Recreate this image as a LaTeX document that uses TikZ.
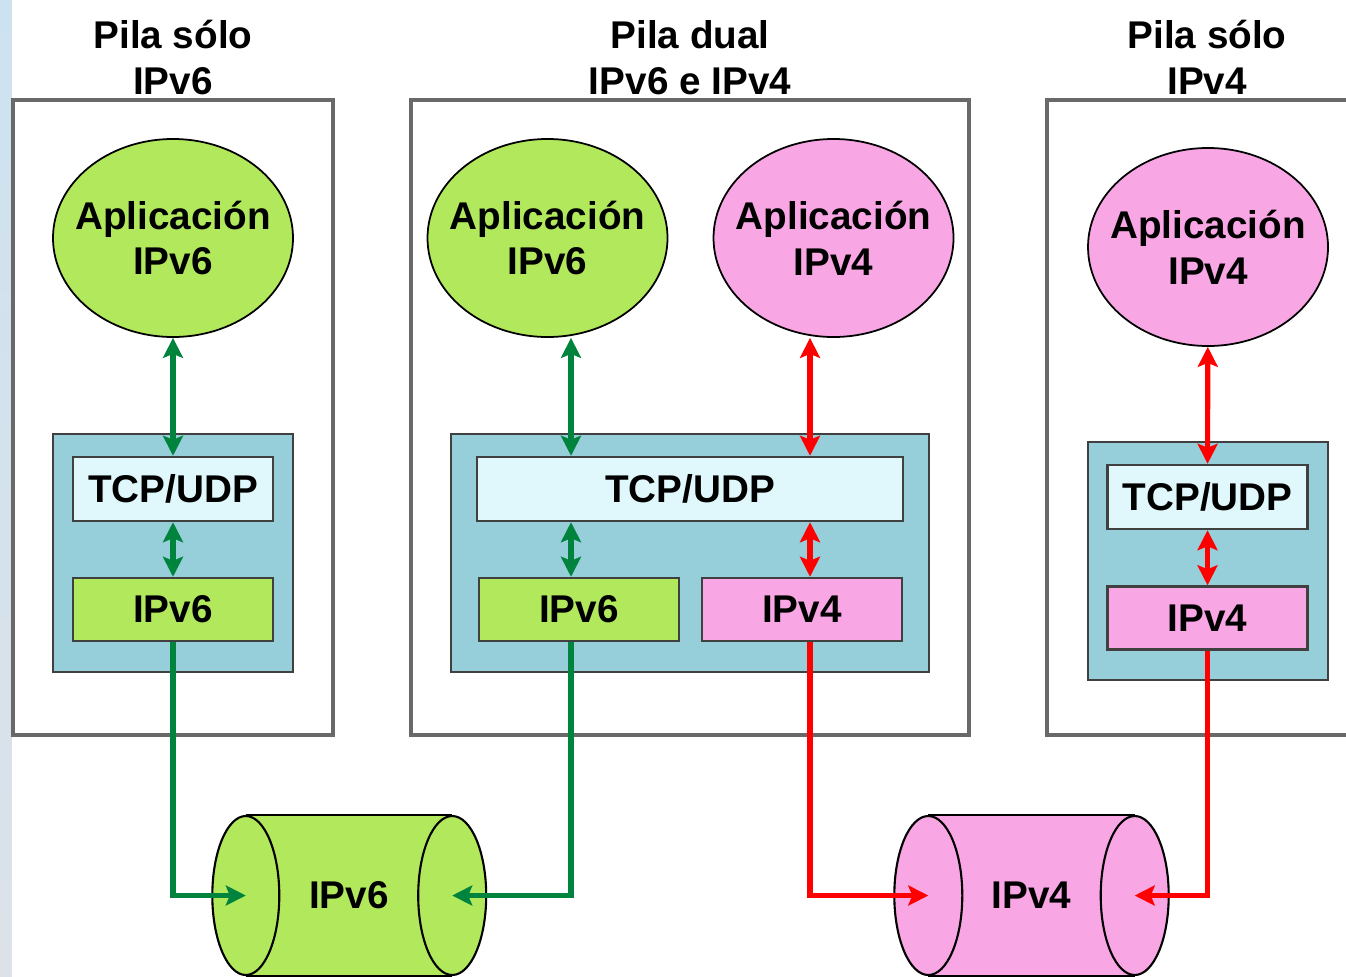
\documentclass[tikz,border=0pt]{standalone}
\usepackage{fontspec}
\setmainfont{Liberation Sans}
\usepackage{xcolor}
\usepackage{tikz}
\usetikzlibrary{arrows.meta,positioning,shapes,calc}

\definecolor{appgreen}{RGB}{178,232,92}
\definecolor{apppink}{RGB}{249,166,228}
\definecolor{stackblue}{RGB}{150,206,217}
\definecolor{tcpfill}{RGB}{224,248,252}
\definecolor{linkgreen}{RGB}{0,132,61}
\definecolor{linkred}{RGB}{255,0,0}
\definecolor{framegray}{RGB}{105,105,105}
\definecolor{skyleft}{RGB}{205,226,240}
\definecolor{skylow}{RGB}{220,226,232}

\begin{document}
\begin{tikzpicture}[
    txt/.style={font=\fontsize{11}{13}\selectfont\bfseries, align=center, inner sep=0pt},
    title/.style={txt},
    stack/.style={rectangle, draw=framegray, line width=0.9pt, fill=white, inner sep=0pt},
    layer/.style={rectangle, draw=black!75, line width=0.7pt, fill=stackblue, inner sep=0pt},
    proto/.style={rectangle, draw=black!75, line width=0.7pt, txt, minimum width=2cm, minimum height=0.63cm},
    app/.style={ellipse, draw=black, line width=0.5pt, txt, inner xsep=-0.2cm, inner ysep=0pt, minimum width=2.4cm, minimum height=1.98cm},
    net/.style={rectangle, txt, minimum width=2.05cm, minimum height=1.59cm},
    glink/.style={{Stealth[length=0.2cm,width=0.2cm,inset=0.04cm]}-{Stealth[length=0.2cm,width=0.2cm,inset=0.04cm]}, linkgreen, line width=1.45pt},
    rlink/.style={glink, linkred},
    gend/.style={-{Stealth[length=0.2cm,width=0.2cm,inset=0.04cm]}, linkgreen, line width=1.45pt},
    rend/.style={gend, linkred}
]
    \clip (0,0) rectangle (13.46,-9.76);
    \fill[white] (0,0) rectangle (13.46,-9.76);
    \shade[top color=skyleft, bottom color=skylow] (0,0) rectangle (0.12,-9.76);

    % Titles
    \node[title] (tit6) at (1.73,-0.575) {Pila sólo\\IPv6};
    \node[title] (titdual) at (6.90,-0.575) {Pila dual\\IPv6 e IPv4};
    \node[title] (tit4) at (12.07,-0.575) {Pila sólo\\IPv4};

    % Outer frames
    \node[stack, minimum width=3.2cm, minimum height=6.35cm] (fra) at (1.73,-4.175) {};
    \node[stack, minimum width=5.58cm, minimum height=6.35cm] (frb) at (6.90,-4.175) {};
    \node[stack, minimum width=3.2cm, minimum height=6.35cm] (frc) at (12.07,-4.175) {};

    % Lanes for the vertical links
    \coordinate (lane6) at (5.71,0);
    \coordinate (lane4) at (8.10,0);

    % Left stack: IPv6 only
    \node[app, fill=appgreen] (appa6) at (1.73,-2.38) {Aplicación\\IPv6};
    \node[layer, minimum width=2.4cm, minimum height=2.38cm] (laya) at (1.73,-5.53) {};
    \node[proto, fill=tcpfill, minimum height=0.64cm] (tcpa) at (1.73,-4.89) {TCP/UDP};
    \node[proto, fill=appgreen] (ipa6) at (1.73,-6.095) {IPv6};

    % Middle stack: dual
    \node[app, fill=appgreen] (appb6) at (5.475,-2.38) {Aplicación\\IPv6};
    \node[app, fill=apppink] (appb4) at (8.335,-2.38) {Aplicación\\IPv4};
    \node[layer, minimum width=4.78cm, minimum height=2.38cm] (layb) at (6.90,-5.53) {};
    \node[proto, fill=tcpfill, minimum width=4.26cm, minimum height=0.64cm] (tcpb) at (6.90,-4.89) {TCP/UDP};
    \node[proto, fill=appgreen] (ipb6) at (5.79,-6.095) {IPv6};
    \node[proto, fill=apppink] (ipb4) at (8.02,-6.095) {IPv4};

    % Right stack: IPv4 only
    \node[app, fill=apppink] (appc4) at (12.08,-2.47) {Aplicación\\IPv4};
    \node[layer, minimum width=2.4cm, minimum height=2.38cm] (layc) at (12.08,-5.61) {};
    \node[proto, fill=tcpfill, minimum height=0.64cm] (tcpc) at (12.075,-4.97) {TCP/UDP};
    \node[proto, fill=apppink] (ipc4) at (12.075,-6.18) {IPv4};

    % Networks (cylinders)
    \node[net, fill=appgreen] (net6) at (3.49,-8.955) {IPv6};
    \node[net, fill=apppink] (net4) at (10.315,-8.955) {IPv4};
    \draw[line width=0.6pt] (net6.north west) -- (net6.north east) (net6.south west) -- (net6.south east);
    \draw[line width=0.6pt, fill=appgreen] (net6.east) ellipse [x radius=0.34cm, y radius=0.795cm];
    \draw[line width=0.6pt, fill=appgreen] (net6.west) ellipse [x radius=0.335cm, y radius=0.795cm];
    \draw[line width=0.6pt] (net4.north west) -- (net4.north east) (net4.south west) -- (net4.south east);
    \draw[line width=0.6pt, fill=apppink] (net4.east) ellipse [x radius=0.34cm, y radius=0.795cm];
    \draw[line width=0.6pt, fill=apppink] (net4.west) ellipse [x radius=0.34cm, y radius=0.795cm];

    % Links
    \draw[glink] (appa6) -- (tcpa);
    \draw[glink] (tcpa) -- (ipa6);
    \draw[gend] (ipa6.south) |- (net6.west);

    \draw[glink] (appb6.south -| lane6) -- (tcpb.north -| lane6);
    \draw[glink] (tcpb.south -| lane6) -- (ipb6.north -| lane6);
    \draw[gend] (ipb6.south -| lane6) |- (net6.east);

    \draw[rlink] (appb4.south -| lane4) -- (tcpb.north -| lane4);
    \draw[rlink] (tcpb.south -| lane4) -- (ipb4.north -| lane4);
    \draw[rend] (ipb4.south -| lane4) |- (net4.west);

    \draw[rlink] (appc4) -- (tcpc);
    \draw[rlink] (tcpc) -- (ipc4);
    \draw[rend] (ipc4.south) |- (net4.east);
\end{tikzpicture}
\end{document}
